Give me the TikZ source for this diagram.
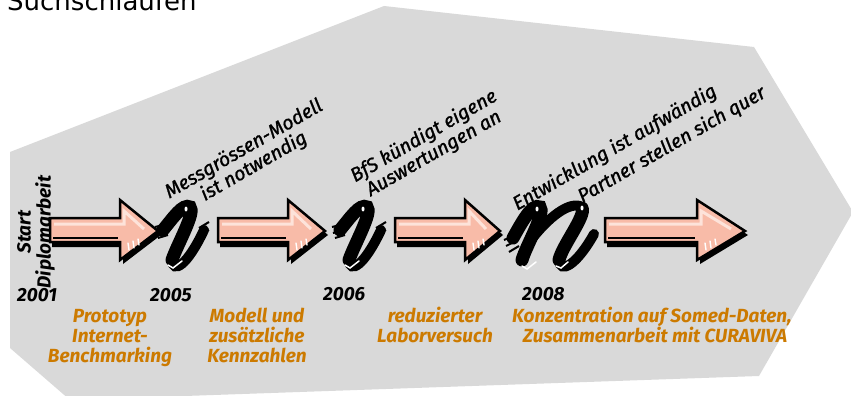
\documentclass[tikz,border=0pt]{standalone}
\usepackage{fontspec}
\setmainfont{Fira Sans}
\newfontfamily\titlefont{DejaVu Sans}
\newfontfamily\lblfont{Fira Sans}[FakeBold=1.2]
\definecolor{bgray}{HTML}{D9D9D9}
\definecolor{orangetxt}{HTML}{CC7A00}
\definecolor{pinkfill}{HTML}{F8BBA8}
\definecolor{pinklight}{HTML}{FDE3DA}
\tikzset{
  blacklabel/.style={font=\lblfont\fontsize{19.5}{20}\selectfont\itshape, text=black, inner sep=0pt, align=center, rotate=30},
  yearlabel/.style={font=\fontsize{19}{20}\selectfont\bfseries\itshape, anchor=base west, inner sep=0pt},
  orangeline/.style={font=\fontsize{19}{20}\selectfont\bfseries\itshape, text=orangetxt, anchor=base, inner sep=0pt},
  arrowbody/.style={fill=pinkfill, draw=black, line width=2.5pt, line join=miter},
  glyphstroke/.style={line width=13pt, line cap=round, draw=black},
  glyphtail/.style={line width=10pt, line cap=round, draw=black},
  glyphjag/.style={line width=2pt, draw=black},
}
\newcommand\tlarrow[3]{%
  \fill[black] ({#1+2},222) -- ({#2+3},222) -- ({#2+3},204) -- ({#3+3},235) -- ({#2+3},264) -- ({#2+3},247) -- ({#1+2},247) -- cycle;
  \filldraw[arrowbody] (#1,218) -- (#2,218) -- (#2,200) -- (#3,231) -- (#2,260) -- (#2,242) -- (#1,242) -- cycle;
  \draw[pinklight, line width=3pt] ({#1+4},224) -- ({#2+4},224) -- ({#2+4},211) -- ({#3-14},229);
  \draw[black, line width=1.5pt] ({#1+3},238) -- ({#2-2},238);
  \draw[white, line width=1.4pt, line cap=round] ({#2+8},243) -- ({#2+9},250) ({#2+13},241) -- ({#2+14},248) ({#2+18},239) -- ({#2+19},245);
}
\newcommand\tlglyph[1]{%
  \begin{scope}[shift={(#1,200)}]
    \draw[glyphjag] (0,27) -- (12,24) (1,33) -- (12,30) (3,38) -- (13,35);
    \draw[glyphstroke] (8,30) .. controls (18,18) and (28,3) .. (35,7) .. controls (41,12) and (22,45) .. (17,60);
    \draw[glyphtail] (17,60) .. controls (18,74) and (32,66) .. (49,30);
    \draw[glyphjag] (44,28) -- (54,22) (46,34) -- (54,30);
    \fill[white] (31,9) ellipse (1.5 and 2.5);
    \draw[white, line width=1.5pt, line cap=round] (13,65) -- (18,68) -- (27,61);
  \end{scope}
}
\begin{document}
\begin{tikzpicture}[x=1pt,y=-1pt]
\useasboundingbox (0,0) rectangle (851,396);
\begin{scope}
\clip (0,0) rectangle (851,396);
\fill[bgray] (10,152) -- (384,6) -- (754,47) -- (853,212) -- (759,376) -- (70,400) -- (10,348) -- cycle;
\node[font=\titlefont\fontsize{26}{26}\selectfont, anchor=base west, inner sep=0pt] (title) at (7,11) {Suchschlaufen};

\tlarrow{50}{120}{158}
\tlarrow{218}{288}{325}
\tlarrow{395}{465}{500}
\tlarrow{605}{697}{745}

\tlglyph{155}
\tlglyph{332}

\begin{scope}[shift={(504,200)}]
  \draw[glyphjag] (0,40) -- (14,34) (2,46) -- (14,40) (5,52) -- (15,46);
  \draw[glyphstroke] (9,38) .. controls (18,22) and (28,3) .. (36,7) .. controls (42,12) and (22,46) .. (18,60);
  \draw[glyphtail] (24,44) .. controls (40,22) and (62,2) .. (76,6);
  \draw[glyphstroke] (78,8) .. controls (82,16) and (58,46) .. (55,60);
  \draw[glyphtail] (55,60) .. controls (56,74) and (72,66) .. (90,34);
  \fill[white] (33,9) ellipse (1.5 and 2.5);
  \fill[white] (78,8) ellipse (1.5 and 2.5);
  \draw[white, line width=1.5pt, line cap=round] (18,66) -- (23,69) -- (32,62);
  \draw[white, line width=1.5pt, line cap=round] (52,66) -- (57,68) -- (64,62);
\end{scope}
\end{scope}

\node[font=\fontsize{19}{20}\selectfont\bfseries\itshape, rotate=90, align=center, inner sep=0pt] (start) at (36,232) {Start\\Diplomarbeit};

\node[blacklabel] (mess) at (249,158) {Messgrössen-Modell\\ist notwendig};
\node[blacklabel] (bfs) at (429,145) {BfS kündigt eigene\\Auswertungen an};
\node[blacklabel] (entw) at (615,148) {Entwicklung ist aufwändig};
\node[blacklabel] (partner) at (672,145) {Partner stellen sich quer};

\node[yearlabel] (y2001) at (17,301) {2001};
\node[yearlabel] (y2005) at (150,301) {2005};
\node[yearlabel] (y2006) at (323,300) {2006};
\node[yearlabel] (y2008) at (522,300) {2008};

\node[orangeline] (o1a) at (110,322) {Prototyp};
\node[orangeline] (o1b) at (110,342) {Internet-};
\node[orangeline] (o1c) at (110,362) {Benchmarking};
\node[orangeline] (o2a) at (257,322) {Modell und};
\node[orangeline] (o2b) at (257,342) {zusätzliche};
\node[orangeline] (o2c) at (257,362) {Kennzahlen};
\node[orangeline] (o3a) at (435,322) {reduzierter};
\node[orangeline] (o3b) at (435,342) {Laborversuch};
\node[orangeline] (o4a) at (652,322) {Konzentration auf Somed-Daten,};
\node[orangeline] (o4b) at (655,342) {Zusammenarbeit mit CURAVIVA};
\end{tikzpicture}
\end{document}
